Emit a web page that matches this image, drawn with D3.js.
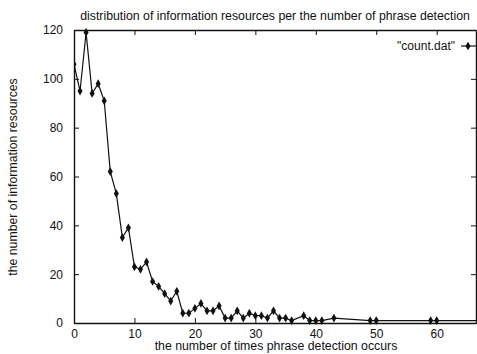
<!DOCTYPE html>
<meta charset="utf-8">
<style>
  body { margin: 0; background: #fff; }
  text { font-family: "Liberation Sans", Arial, sans-serif; fill: #111; }
  .axis path, .axis line { stroke: #111; }
</style>
<svg width="477" height="354"></svg>
<script src="https://cdn.jsdelivr.net/npm/d3@7"></script>
<script>
const svg = d3.select("svg"),
  width = +svg.attr("width"),
  height = +svg.attr("height");

// counts
const times = [0, 1, 2, 3, 4, 5, 6, 7, 8, 9, 10, 11, 12, 13, 14, 15, 16, 17, 18, 19,
  20, 21, 22, 23, 24, 25, 26, 27, 28, 29, 30, 31, 32, 33, 34, 35, 36, 38, 39, 40,
  41, 43, 49, 50, 59, 60, 70];
const counts = [106, 95, 119, 94, 98, 91, 62, 53, 35, 39, 23, 22, 25, 17, 15, 12, 9, 13, 4, 4,
  6, 8, 5, 5, 7, 2, 2, 5, 2, 4, 3, 3, 2, 5, 2, 2, 1, 3, 1, 1,
  1, 2, 1, 1, 1, 1, 1];
const xTicks = [0, 10, 20, 30, 40, 50, 60];
const yTicks = [0, 20, 40, 60, 80, 100, 120];

const title = "distribution of information resources per the number of phrase detection";
const xLabel = "the number of times phrase detection occurs";
const yLabel = "the number of information resources";
const seriesName = "\"count.dat\"";

const points = times.map((t, i) => ({ x: t, y: counts[i] }));

const mLeft = 74, mRight = 476, mTop = 30, mBottom = 323;

const x = d3.scaleLinear().domain([0, 66.5]).range([mLeft, mRight]);
const y = d3.scaleLinear().domain([0, 120]).range([mBottom, mTop]);

svg.append("clipPath").attr("id", "plot")
  .append("rect").attr("x", mLeft).attr("y", mTop - 3)
  .attr("width", mRight - mLeft).attr("height", mBottom - mTop + 6);

// axes, ticks inward on all four sides
svg.append("g").attr("class", "axis")
  .attr("transform", `translate(0,${mBottom})`)
  .call(d3.axisBottom(x).tickValues(xTicks).tickSizeInner(-5).tickSizeOuter(0).tickPadding(6))
  .call(g => g.selectAll("text").attr("font-size", 12));

svg.append("g").attr("class", "axis")
  .attr("transform", `translate(0,${mTop})`)
  .call(d3.axisTop(x).tickValues(xTicks).tickSizeInner(-5).tickSizeOuter(0).tickFormat(""));

svg.append("g").attr("class", "axis")
  .attr("transform", `translate(${mLeft},0)`)
  .call(d3.axisLeft(y).tickValues(yTicks).tickSizeInner(-5).tickSizeOuter(0).tickPadding(11))
  .call(g => g.selectAll("text").attr("font-size", 12));

svg.append("g").attr("class", "axis")
  .attr("transform", `translate(${mRight},0)`)
  .call(d3.axisRight(y).tickValues(yTicks).tickSizeInner(-5).tickSizeOuter(0).tickFormat(""));

svg.selectAll(".axis path").attr("stroke-width", 1.4);

// series
const line = d3.line().x(d => x(d.x)).y(d => y(d.y));

const plot = svg.append("g").attr("clip-path", "url(#plot)");

plot.append("path")
  .datum(points)
  .attr("fill", "none")
  .attr("stroke", "#111")
  .attr("stroke-width", 1.2)
  .attr("d", line);

const marker = d3.symbol().type(d3.symbolDiamond).size(22);

plot.selectAll(".pt")
  .data(points)
  .enter().append("path")
  .attr("class", "pt")
  .attr("d", marker)
  .attr("fill", "#111")
  .attr("transform", d => `translate(${x(d.x)},${y(d.y)})`);

// legend
svg.append("text")
  .attr("x", 455).attr("y", 50)
  .attr("text-anchor", "end")
  .attr("font-size", 12)
  .text(seriesName);

svg.append("line")
  .attr("x1", 461).attr("x2", 477).attr("y1", 46).attr("y2", 46)
  .attr("stroke", "#111").attr("stroke-width", 1.2);

svg.append("path")
  .attr("d", marker)
  .attr("fill", "#111")
  .attr("transform", "translate(468,46)");

// titles
svg.append("text")
  .attr("x", 275).attr("y", 20)
  .attr("text-anchor", "middle")
  .attr("font-size", 12.3)
  .text(title);

svg.append("text")
  .attr("x", 276).attr("y", 350)
  .attr("text-anchor", "middle")
  .attr("font-size", 12.3)
  .text(xLabel);

svg.append("text")
  .attr("transform", "translate(17,177) rotate(-90)")
  .attr("text-anchor", "middle")
  .attr("font-size", 12.3)
  .text(yLabel);
</script>
